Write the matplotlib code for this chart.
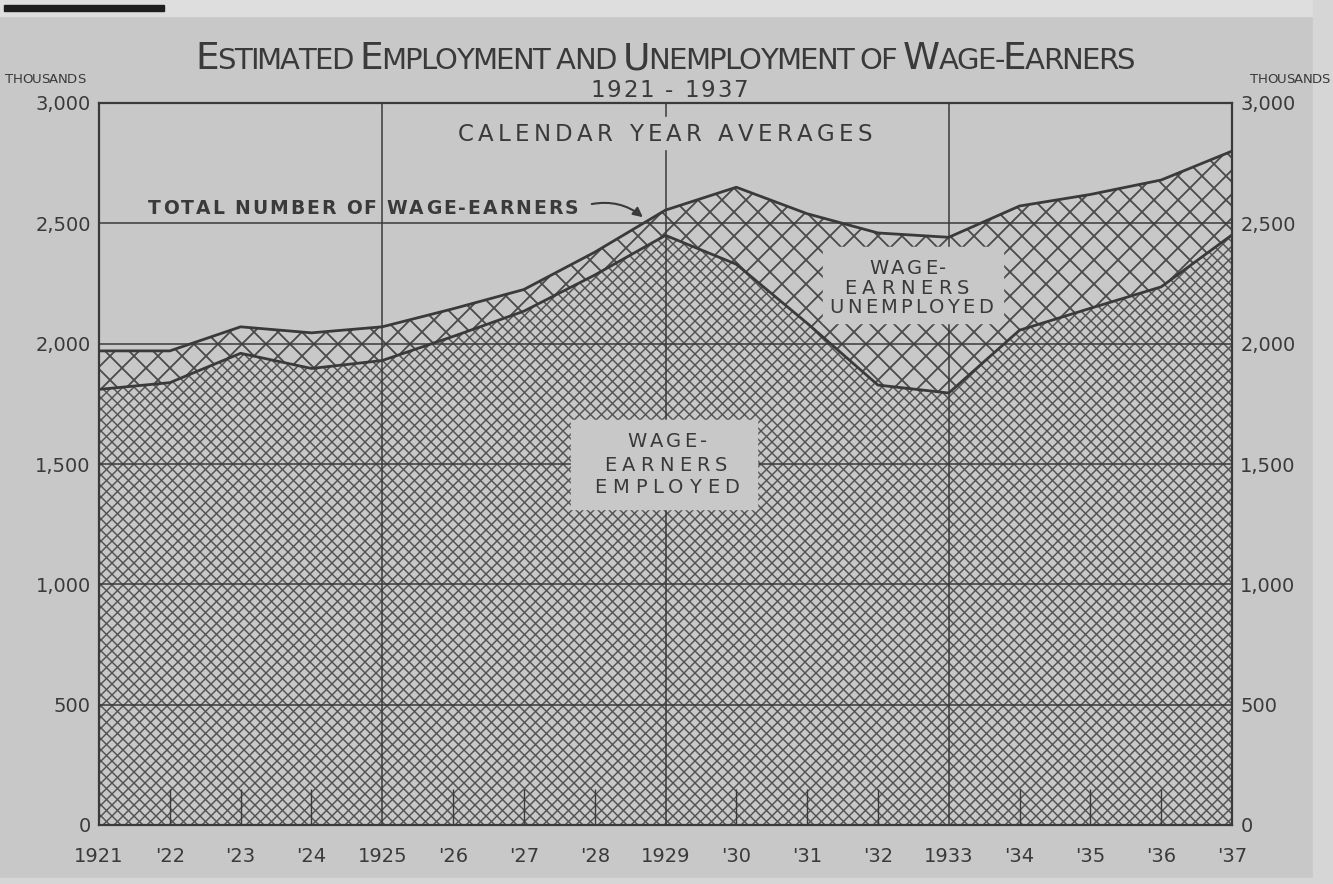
import numpy as np
import matplotlib.pyplot as plt
import matplotlib.transforms as mtransforms
from matplotlib.collections import LineCollection

# -----------------------------------------------------
# DATA (thousands of wage-earners, calendar year averages)
# -----------------------------------------------------

years = np.arange(1921, 1938)

total_earners = [1970, 1970, 2070, 2045, 2070, 2145, 2225, 2380, 2555,
                 2650, 2540, 2460, 2442, 2572, 2620, 2680, 2800]

employed = [1810, 1838, 1960, 1897, 1930, 2030, 2135, 2285, 2450,
            2330, 2085, 1828, 1795, 2056, 2147, 2236, 2452]

year_labels = ["1921", "'22", "'23", "'24", "1925", "'26", "'27", "'28", "1929",
               "'30", "'31", "'32", "1933", "'34", "'35", "'36", "'37"]

y_ticks = [0, 500, 1000, 1500, 2000, 2500, 3000]
y_tick_labels = ["0", "500", "1,000", "1,500", "2,000", "2,500", "3,000"]

major_years = [1925, 1929, 1933]

# -----------------------------------------------------
# STYLE
# -----------------------------------------------------

paper = "#c8c8c8"
ink = "#3a3a3a"

plt.rcParams["font.family"] = ["DejaVu Sans"]

W_FIG, H_FIG = 1333, 884
AX_L, AX_R, AX_T, AX_B = 99, 1232, 103, 825

fig = plt.figure(figsize=(W_FIG / 100, H_FIG / 100), dpi=100)
fig.patch.set_facecolor(paper)
ident = mtransforms.IdentityTransform()
renderer = fig.canvas.get_renderer()

# lighter page margins
fig.patches.append(plt.Rectangle((0, H_FIG - 16), W_FIG, 16, transform=ident,
                                 color="#dedede", zorder=-1))
fig.patches.append(plt.Rectangle((1313, 0), 30, H_FIG, transform=ident,
                                 color="#d6d6d6", zorder=-1))
fig.patches.append(plt.Rectangle((0, 0), W_FIG, 6, transform=ident,
                                 color="#d6d6d6", zorder=-1))
fig.patches.append(plt.Rectangle((4, H_FIG - 11), 160, 6, transform=ident,
                                 color="#1e1e1e", zorder=0))

ax_w = AX_R - AX_L
ax_h = AX_B - AX_T
ax = fig.add_axes([AX_L / W_FIG, (H_FIG - AX_B) / H_FIG, ax_w / W_FIG, ax_h / H_FIG])
ax.set_facecolor(paper)
ax.set_xlim(years[0], years[-1])
ax.set_ylim(0, 3000)

# -----------------------------------------------------
# AREAS WITH CROSS-HATCHING
# -----------------------------------------------------

emp_fill = ax.fill_between(years, 0, employed, facecolor="none", edgecolor="none")
unemp_fill = ax.fill_between(years, employed, total_earners, facecolor="none", edgecolor="none")


def cross_hatch(fill, spacing, lw, color):
    # diagonal lines laid out in axes pixels so they stay at 45 degrees
    to_axes = mtransforms.Affine2D().scale(1 / ax_w, 1 / ax_h) + ax.transAxes
    offs = np.arange(-ax_h, ax_w + spacing, spacing)
    segs = [[(c, 0), (c + ax_h, ax_h)] for c in offs]
    segs += [[(c, ax_h), (c + ax_h, 0)] for c in offs]
    lc = LineCollection(segs, colors=color, linewidths=lw, transform=to_axes, zorder=2)
    lc.set_clip_path(fill.get_paths()[0], ax.transData)
    ax.add_collection(lc, autolim=False)


cross_hatch(emp_fill, 11, 1.05, "#525252")
cross_hatch(unemp_fill, 24, 1.3, "#4a4a4a")

ax.plot(years, total_earners, color=ink, linewidth=2.0, zorder=4)
ax.plot(years, employed, color=ink, linewidth=2.0, zorder=4)

# -----------------------------------------------------
# GRID AND TICKS
# -----------------------------------------------------

ax.hlines(y_ticks[1:-1], years[0], years[-1], color=ink, linewidth=1.1, zorder=3)
ax.vlines(major_years, 0, 3000, color=ink, linewidth=1.1, zorder=3)
minor_years = [y for y in years[1:-1] if y not in major_years]
ax.vlines(minor_years, 0, 150, color=ink, linewidth=1.0, zorder=3)

for sp in ax.spines.values():
    sp.set_color(ink)
    sp.set_linewidth(1.6)
    sp.set_zorder(5)

ax.set_yticks(y_ticks)
ax.set_yticklabels(y_tick_labels)
ax.set_xticks(years)
ax.set_xticklabels(year_labels)
ax.tick_params(axis="y", length=0, pad=6, labelsize=14, labelcolor=ink,
               labelleft=True, labelright=True)
ax.tick_params(axis="x", length=0, pad=16, labelsize=14, labelcolor=ink)

# -----------------------------------------------------
# LETTER-SPACED TEXT (pixel coordinates from the top-left)
# -----------------------------------------------------


def tracked(pieces, cx, base, width, z=7, **kw):
    items = []
    for ch, size in pieces:
        if ch == " ":
            items.append((None, size * 100 / 72 * 0.32))
            continue
        t = fig.text(0, 0, ch, fontsize=size, transform=ident, va="baseline",
                     ha="left", color=ink, zorder=z, **kw)
        items.append((t, t.get_window_extent(renderer).width))
    track = (width - sum(w for _, w in items)) / (len(items) - 1)
    x = cx - width / 2
    for t, w in items:
        if t is not None:
            t.set_position((x, H_FIG - base))
        x += w + track


def plain(s, size):
    return [(c, size) for c in s]


def clear_box(x0, y0, x1, y1):
    fig.patches.append(plt.Rectangle((x0, H_FIG - y1), x1 - x0, y1 - y0,
                                     transform=ident, color=paper, zorder=6))


# title in small caps
title_words = ["Estimated", "Employment", "and", "Unemployment", "of", "Wage-Earners"]
big, small = 27, 21
title = []
for wi, w in enumerate(title_words):
    prev = "-"
    for ch in w:
        cap = ch.isupper() and prev == "-" and w not in ("and", "of")
        title.append((ch.upper(), big if cap else small))
        prev = "-" if ch == "-" else ch
    if wi < len(title_words) - 1:
        title.append((" ", small))
tracked(title, 665, 69, 940)

tracked(plain("1921 - 1937", 16.5), 669, 97, 158)

tracked(plain("THOUSANDS", 9.5), 45, 83, 80)
tracked(plain("THOUSANDS", 9.5), 1290, 83, 80)

# labels inside the plotting area
clear_box(450, 117, 882, 149)
tracked(plain("CALENDAR YEAR AVERAGES", 16.5), 665, 141, 415)

tracked(plain("TOTAL NUMBER OF WAGE-EARNERS", 13.5), 363, 214, 430, fontweight="bold")

ax.annotate("", xy=(1928.71, 2518), xytext=(1927.92, 2578),
            arrowprops=dict(arrowstyle="-|>", color=ink, lw=1.5,
                            connectionstyle="arc3,rad=-0.25", mutation_scale=14),
            zorder=6)

clear_box(823, 247, 1003, 323)
tracked(plain("WAGE-", 14), 908, 274, 77)
tracked(plain("EARNERS", 14), 907, 294, 125)
tracked(plain("UNEMPLOYED", 14), 911, 313, 163)

clear_box(571, 420, 757, 509)
tracked(plain("WAGE-", 14), 667, 447, 80)
tracked(plain("EARNERS", 14), 666, 471, 123)
tracked(plain("EMPLOYED", 14), 667, 493, 145)

plt.savefig("out.png", dpi=100, facecolor=fig.get_facecolor())
